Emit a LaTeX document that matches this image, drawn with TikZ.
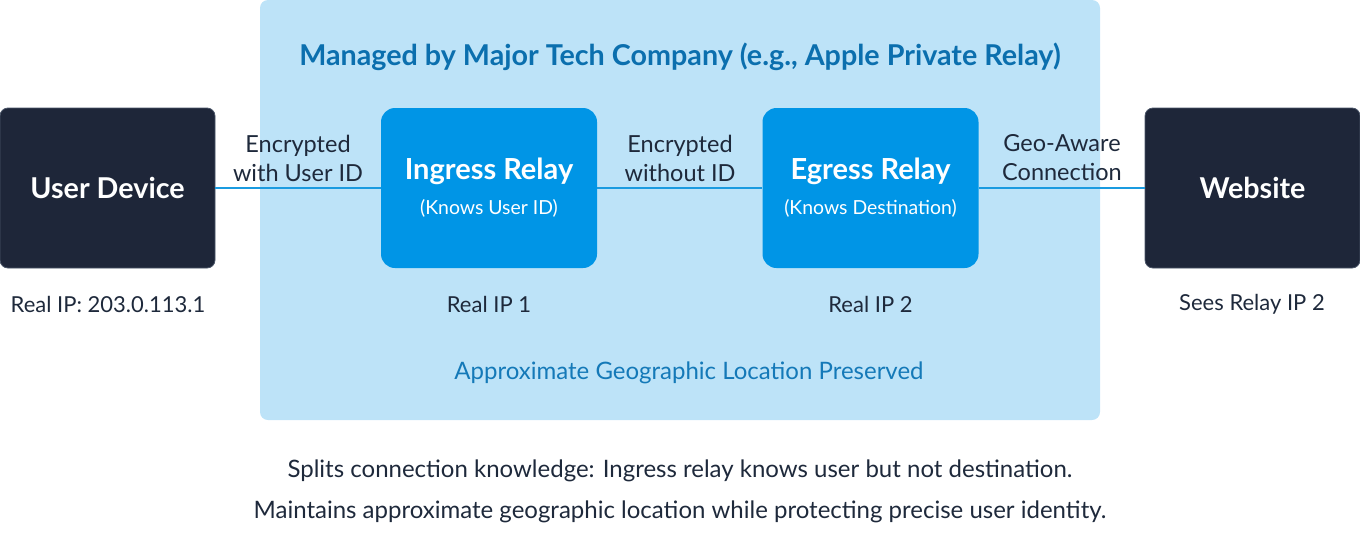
\documentclass[tikz,border=0pt]{standalone}
\usepackage{fontspec}
\setmainfont{Lato}
\definecolor{zone}{HTML}{BDE3F8}
\definecolor{relay}{HTML}{0095E6}
\definecolor{darkbox}{HTML}{1E2639}
\definecolor{darkedge}{HTML}{4A5568}
\definecolor{titleblue}{HTML}{0B6FAE}
\definecolor{noteblue}{HTML}{1479B8}
\definecolor{txt}{HTML}{1E293B}
\definecolor{wire}{HTML}{1A9BE0}
\begin{document}
\begin{tikzpicture}[x=1pt,y=-1pt,
  endbox/.style={draw=darkedge,line width=0.8pt,fill=darkbox,rounded corners=8pt,minimum width=215pt,minimum height=160pt,inner sep=0pt,text=white,font=\fontsize{28.7}{32}\selectfont\bfseries},
  relaybox/.style={fill=relay,rounded corners=14pt,minimum width=216pt,minimum height=160pt,inner sep=0pt},
  wirestyle/.style={draw=wire,line width=2pt},
  elabel/.style={text=txt,font=\fontsize{23.5}{29}\selectfont,align=center},
  plabel/.style={text=txt,font=\fontsize{22}{26}\selectfont},
  nlabel/.style={text=txt,font=\fontsize{24}{28}\selectfont},
  rtitle/.style={text=white,font=\fontsize{29}{32}\selectfont\bfseries},
  rsub/.style={text=white,font=\fontsize{19.4}{22}\selectfont},
]
\useasboundingbox (0,0) rectangle (1360,536);
\fill[zone,rounded corners=8pt] (260,0) rectangle (1100,420);
\node[text=titleblue,font=\fontsize{28.7}{32}\selectfont\bfseries] (title) at (680,56.5) {Managed by Major Tech Company (e.g., Apple Private Relay)};

\node[endbox] (user) at (107.5,188) {User Device};
\node[relaybox] (ingress) at (489,188) {};
\node[relaybox] (egress) at (870.5,188) {};
\node[endbox] (web) at (1252.5,188) {Website};

\node[rtitle] (ingt) at (489,171) {Ingress Relay};
\node[rsub] (ings) at (489,208) {(Knows User ID)};
\node[rtitle] (egt) at (870.5,171) {Egress Relay};
\node[rsub] (egs) at (870.5,208) {(Knows Destination)};

\draw[wirestyle] (user.east) -- (ingress.west);
\draw[wirestyle] (ingress.east) -- (egress.west);
\draw[wirestyle] (egress.east) -- (web.west);

\node[elabel] (l1) at (298,158) {Encrypted\\with User ID};
\node[elabel] (l2) at (680,158) {Encrypted\\without ID};
\node[elabel] (l3) at (1062,158) {Geo-Aware\\Connection};

\node[plabel] (p1) at (108,304) {Real IP: 203.0.113.1};
\node[plabel] (p2) at (489,304) {Real IP 1};
\node[plabel] (p3) at (870.5,304) {Real IP 2};
\node[plabel] (p4) at (1252,304) {Sees Relay IP 2};

\node[text=noteblue,font=\fontsize{24}{28}\selectfont] (geo) at (689,373) {Approximate Geographic Location Preserved};

\node[nlabel] (n1) at (680,471) {Splits connection knowledge: Ingress relay knows user but not destination.};
\node[nlabel] (n2) at (680,512) {Maintains approximate geographic location while protecting precise user identity.};
\end{tikzpicture}
\end{document}
